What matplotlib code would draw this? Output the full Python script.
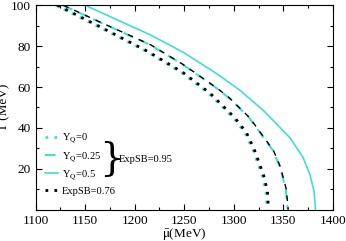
import numpy as np
import matplotlib
matplotlib.use('Agg')
import matplotlib.pyplot as plt

plt.rcParams['font.family'] = ['Liberation Serif', 'DejaVu Serif']
plt.rcParams['mathtext.fontset'] = 'stix'

# ExpSB = 0.95 curves (cyan)
mu_yq0 = [1120.5, 1163.5, 1211.5, 1247.5, 1274.5, 1299.5, 1311.5, 1319.5, 1328.5, 1332.5, 1333.5]
t_yq0 = [100, 89.5, 77.5, 67, 57, 45, 37.5, 29, 17, 9, 0]
mu_yq025 = [1127.5, 1164.5, 1215.5, 1248.5, 1282.5, 1295.5, 1315.5, 1339.5, 1346.5, 1352.5, 1354.5]
t_yq025 = [100, 91.8, 80.7, 71, 59.5, 54.5, 45, 29, 21, 10, 0]
mu_yq05 = [1150, 1216, 1249, 1283, 1306, 1330, 1357, 1370, 1377, 1381, 1382.5]
t_yq05 = [100, 85.5, 77, 66.5, 58.5, 48.5, 35, 25.5, 17, 9, 0]

# ExpSB = 0.76 curves (black)
mu_sb076_dot = [1122, 1165, 1213, 1249, 1276, 1301, 1313, 1321, 1330, 1334, 1335]
t_sb076_dot = [100, 89.5, 77.5, 67, 57, 45, 37.5, 29, 17, 9, 0]
mu_sb076_dash = [1128, 1165, 1216, 1249, 1283, 1296, 1316, 1340, 1347, 1353, 1355]
t_sb076_dash = [100, 91.8, 80.7, 71, 59.5, 54.5, 45, 29, 21, 10, 0]

cyan = '#40e0d0'

fig, ax = plt.subplots(figsize=(3.46, 2.41), dpi=100)
fig.subplots_adjust(left=0.103, right=0.962, top=0.978, bottom=0.13)

l0, = ax.plot(mu_yq0, t_yq0, color=cyan, lw=2, ls=(0, (1, 2.2)))
l1, = ax.plot(mu_yq025, t_yq025, color=cyan, lw=1.5, ls=(0, (5, 3)))
l2, = ax.plot(mu_yq05, t_yq05, color=cyan, lw=1.2)
ax.plot(mu_sb076_dash, t_sb076_dash, color='black', lw=1.0, ls=(0, (4, 4.5)))
l3, = ax.plot(mu_sb076_dot, t_sb076_dot, color='black', lw=2, ls=(0, (1, 2.2)))

ax.set_xlim(1100, 1400)
ax.set_ylim(0, 100)
ax.set_xticks([1100, 1150, 1200, 1250, 1300, 1350, 1400])
ax.set_xticks(np.arange(1100, 1401, 25), minor=True)
ax.set_yticks([20, 40, 60, 80, 100])
ax.set_yticks(np.arange(0, 101, 10), minor=True)
ax.tick_params(which='both', direction='in', top=True, right=True, labelsize=9.5, width=0.8)
ax.tick_params(which='major', length=4)
ax.tick_params(which='minor', length=2)
ax.set_xlabel(r'$\bar{\mathrm{\mu}}$(MeV)', fontsize=9.5, labelpad=-0.5)
ax.set_ylabel('T (MeV)', fontsize=9.5, labelpad=0)

leg = ax.legend([l0, l1, l2, l3],
                [r'Y$_\mathrm{Q}$=0', r'Y$_\mathrm{Q}$=0.25', r'Y$_\mathrm{Q}$=0.5', 'ExpSB=0.76'],
                loc='lower left', bbox_to_anchor=(0.005, 0.03), frameon=False, fontsize=7.6,
                handlelength=1.3, handletextpad=0.35, labelspacing=0.45, borderpad=0.2)
ax.text(0.215, 0.245, '}', transform=ax.transAxes, fontsize=28, va='center', ha='left',
        family='DejaVu Serif')
ax.text(0.28, 0.245, 'ExpSB=0.95', transform=ax.transAxes, fontsize=7.6, va='center', ha='left')

fig.savefig('out.png', dpi=100)
